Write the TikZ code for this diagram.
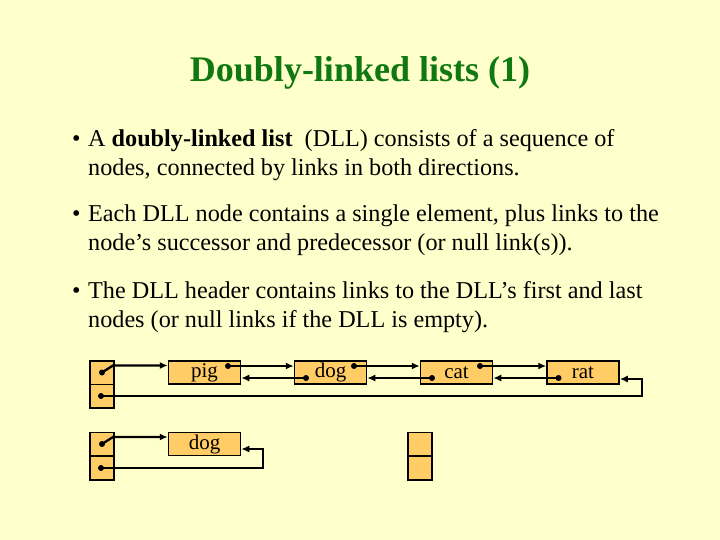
\documentclass[tikz,border=0pt]{standalone}
\usepackage{fontspec}
\setmainfont{Liberation Serif}
\usetikzlibrary{arrows.meta}
\definecolor{bgc}{HTML}{FFFFCC}
\definecolor{boxc}{HTML}{FFCC66}
\definecolor{titlec}{RGB}{16,120,16}
\tikzset{
  cell/.style={draw=black, line width=1.5pt, fill=boxc, minimum width=24pt, minimum height=23.5pt, inner sep=0pt},
  elem/.style={draw=black, line width=1.5pt, fill=boxc, minimum width=72pt, minimum height=23pt, inner sep=0pt, font=\fontsize{21}{22}\selectfont},
  link/.style={line width=2.3pt, -{Latex[length=8pt,width=7pt]}},
  txt/.style={anchor=base west, inner sep=0pt, font=\fontsize{24.2}{28}\selectfont},
  dotc/.style={fill=black}
}
\begin{document}
\begin{tikzpicture}[x=1pt,y=-1pt]
\fill[bgc] (0,0) rectangle (720,540);
\useasboundingbox (0,0) rectangle (720,540);
\node[anchor=base, inner sep=0pt, text=titlec, font=\fontsize{36}{40}\selectfont\bfseries] (title) at (360,82) {Doubly-linked lists (1)};
% bullets
\node[txt] (b1) at (72,147) {•};
\node[txt] (l1) at (88,147) {A \textbf{doubly-linked list}\ \ (DLL) consists of a sequence of};
\node[txt] (l2) at (88,176) {nodes, connected by links in both directions.};
\node[txt] (b2) at (72,222) {•};
\node[txt] (l3) at (88,222) {Each DLL node contains a single element, plus links to the};
\node[txt] (l4) at (88,251) {node’s successor and predecessor (or null link(s)).};
\node[txt] (b3) at (72,298) {•};
\node[txt] (l5) at (88,298) {The DLL header contains links to the DLL’s first and last};
\node[txt] (l6) at (88,327) {nodes (or null links if the DLL is empty).};
% list 1
\node[cell] (h1a) at (102,372.5) {};
\node[cell] (h1b) at (102,396) {};
\node[elem] (pig) at (204.5,372.5) {pig};
\node[elem] (dog) at (330.5,372.5) {dog};
\node[elem] (cat) at (456.5,372.5) {cat};
\node[elem] (rat) at (583,372.5) {rat};
\coordinate (h1d) at (h1a.center);
\coordinate (h1k) at ([shift={(11,-7)}]h1a.center);
\draw[link] (h1d) -- (h1k) -- (h1k -| pig.west);
\fill[dotc] (h1d) circle (3pt);
\coordinate (pn) at ([shift={(23.5,-6.5)}]pig.center);
\coordinate (dn) at ([shift={(23.5,-6.5)}]dog.center);
\coordinate (cn) at ([shift={(23.5,-6.5)}]cat.center);
\coordinate (dp) at ([shift={(-24.5,5.5)}]dog.center);
\coordinate (cp) at ([shift={(-24.5,5.5)}]cat.center);
\coordinate (rp) at ([shift={(-24.5,5.5)}]rat.center);
\draw[link] (pn) -- (pn -| dog.west);
\draw[link] (dn) -- (dn -| cat.west);
\draw[link] (cn) -- (cn -| rat.west);
\draw[link] (dp) -- (dp -| pig.east);
\draw[link] (cp) -- (cp -| dog.east);
\draw[link] (rp) -- (rp -| cat.east);
\foreach \p in {pn,dn,cn,dp,cp,rp} \fill[dotc] (\p) circle (3pt);
\coordinate (h1e) at ([xshift=-1pt]h1b.center);
\coordinate (t1) at ([shift={(59,6.5)}]rat.center);
\draw[link] (h1e) -- (h1e -| t1) -- (t1) -- (t1 -| rat.east);
\fill[dotc] (h1e) circle (3pt);
% list 2
\node[cell] (h2a) at (102,444) {};
\node[cell] (h2b) at (102,468) {};
\node[elem] (dog2) at (204.5,444) {dog};
\coordinate (h2d) at (h2a.center);
\coordinate (h2k) at ([shift={(11,-7)}]h2a.center);
\draw[link] (h2d) -- (h2k) -- (h2k -| dog2.west);
\fill[dotc] (h2d) circle (3pt);
\coordinate (h2e) at ([xshift=-1pt]h2b.center);
\coordinate (t2) at ([shift={(58.5,5)}]dog2.center);
\draw[link] (h2e) -- (h2e -| t2) -- (t2) -- (t2 -| dog2.east);
\fill[dotc] (h2e) circle (3pt);
% list 3 (empty)
\node[cell] (h3a) at (420,444) {};
\node[cell] (h3b) at (420,468) {};
\end{tikzpicture}
\end{document}
